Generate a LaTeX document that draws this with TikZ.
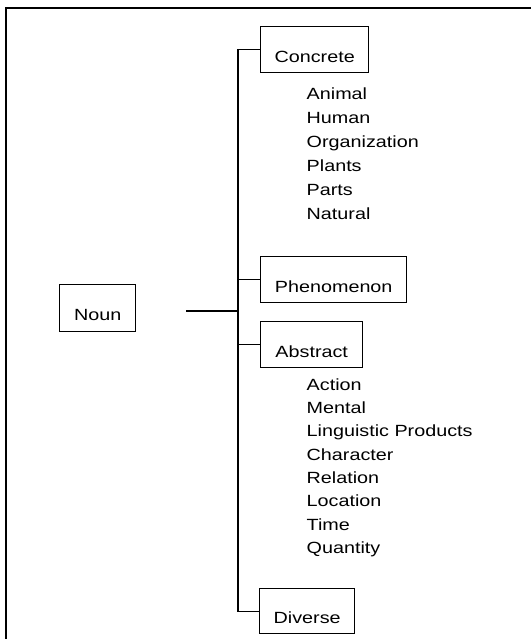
\documentclass[tikz,border=0pt]{standalone}
\usepackage{fontspec}
\setmainfont{Liberation Sans}[FakeStretch=1.22]
\begin{document}
\begin{tikzpicture}[x=1pt,y=-1pt,
  line width=1.4pt,
  every node/.style={font=\fontsize{16.2}{19}\selectfont},
  box/.style={draw, line width=1.4pt, inner sep=0pt, anchor=north west, text depth=10.5pt},
  item/.style={anchor=base west, inner sep=0pt}]
\useasboundingbox (0,0) rectangle (531,639);
% frame (cropped: top and left sides only)
\draw (6,639) -- (6,8) -- (531,8);
% boxes
\node[box, minimum width=76pt, text height=36.5pt] (noun) at (59,283.5) {Noun};
\node[box, minimum width=108pt, text height=35.5pt] (concrete) at (260,26) {Concrete};
\node[box, minimum width=146pt, text height=35.5pt] (phen) at (260,256) {Phenomenon};
\node[box, minimum width=102pt, text height=35.5pt] (abstract) at (260,321) {Abstract};
\node[box, minimum width=95pt, text height=34.5pt] (diverse) at (259,588) {Diverse};
% spine
\coordinate (sp) at (238,0);
\coordinate (nounend) at (186,311);
\draw (concrete.west) -- (concrete.west -| sp) -- (diverse.west -| sp) -- (diverse.west);
\draw (phen.west) -- (phen.west -| sp);
\draw (abstract.west) -- (abstract.west -| sp);
\draw (nounend) -- (nounend -| sp);
% concrete items
\node[item] (c1) at (306,99.5) {Animal};
\node[item] (c2) at (306,123.5) {Human};
\node[item] (c3) at (306,147.5) {Organization};
\node[item] (c4) at (306,171.5) {Plants};
\node[item] (c5) at (306,195.5) {Parts};
\node[item] (c6) at (306,219.5) {Natural};
% abstract items
\node[item] (a1) at (306,390) {Action};
\node[item] (a2) at (306,413.3) {Mental};
\node[item] (a3) at (306,436.7) {Linguistic Products};
\node[item] (a4) at (306,460) {Character};
\node[item] (a5) at (306,483.3) {Relation};
\node[item] (a6) at (306,506.7) {Location};
\node[item] (a7) at (306,530) {Time};
\node[item] (a8) at (306,553.3) {Quantity};
\end{tikzpicture}
\end{document}
